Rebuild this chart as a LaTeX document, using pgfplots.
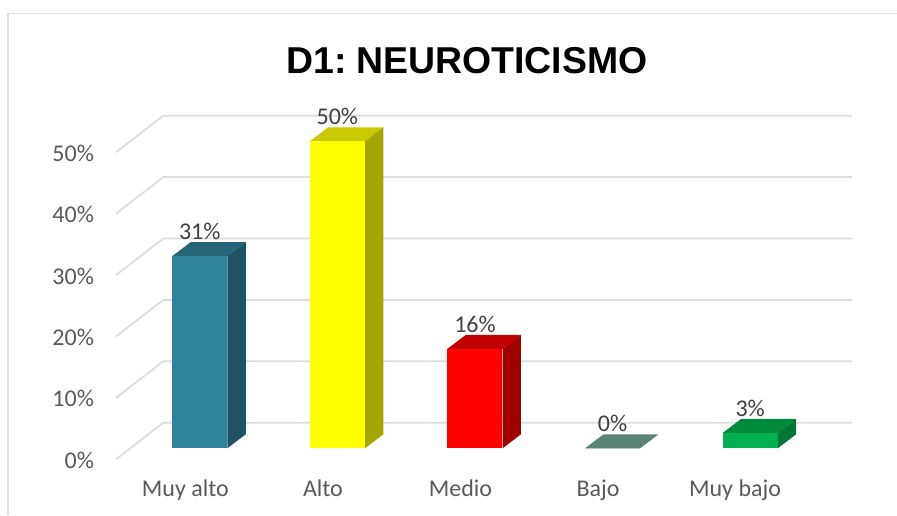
\documentclass[border=0pt]{standalone}
\usepackage{pgfplots}
\pgfplotsset{compat=1.18}
\usepackage{fontspec}
\setmainfont{Carlito}
\newfontfamily\titlefont{Liberation Sans}

\definecolor{gridc}{HTML}{DCDCDC}
\definecolor{axtext}{HTML}{595959}
\definecolor{lbltext}{HTML}{404040}

\tikzset{
    ylab/.style={anchor=east, inner sep=0pt, text=axtext, font=\fontsize{24}{26}\selectfont},
    xlab/.style={anchor=base, inner sep=0pt, text=axtext, font=\fontsize{24}{26}\selectfont},
}

\begin{document}
\begin{tikzpicture}
\useasboundingbox (0,0) rectangle (897pt,515pt);
\begin{axis}[
    at={(0,0)}, anchor=south west,
    hide axis,
    scale only axis,
    width=897pt, height=515pt,
    xmin=-1.452, xmax=5.067,
    ymin=-10.863, ymax=73.01,
    clip=true,
    bar1/.style={ybar, bar width=55pt, bar shift=0pt, draw=none},
    lab/.style={nodes near coords={#1},
        every node near coord/.style={anchor=center, yshift=24.6pt, inner sep=0pt,
            text=lbltext, font=\fontsize{24}{26}\selectfont}},
    grid1/.style={draw=gridc, line width=1.8pt},
]
% chart frame
\addplot[draw=gridc, line width=1.5pt] coordinates {(-1.394,-10.863) (-1.394,70.81) (5.067,70.81)};

% gridlines: side wall and back wall
\addplot[grid1] coordinates {(-0.609,-1.79) (-0.265,4.17) (4.74,4.17)};
\addplot[grid1] coordinates {(-0.609,8.21) (-0.265,14.17) (4.74,14.17)};
\addplot[grid1] coordinates {(-0.609,18.21) (-0.265,24.17) (4.74,24.17)};
\addplot[grid1] coordinates {(-0.609,28.21) (-0.265,34.17) (4.74,34.17)};
\addplot[grid1] coordinates {(-0.609,38.21) (-0.265,44.17) (4.74,44.17)};
\addplot[grid1] coordinates {(-0.609,48.21) (-0.265,54.17) (4.74,54.17)};

% Muy alto
\addplot[fill={rgb,255:red,37;green,103;blue,120}, draw=none] coordinates {(-0.2,31.3) (0.2,31.3) (0.334,33.58) (-0.066,33.58)};
\addplot[fill={rgb,255:red,31;green,83;blue,98}, draw=none] coordinates {(0.2,0) (0.334,2.28) (0.334,33.58) (0.2,31.3)};
\addplot[bar1, fill={rgb,255:red,47;green,132;blue,156}, lab=31\%] coordinates {(0,31.3)};

% Alto
\addplot[fill={rgb,255:red,201;green,201;blue,0}, draw=none] coordinates {(0.8,50) (1.2,50) (1.334,52.28) (0.934,52.28)};
\addplot[fill={rgb,255:red,166;green,166;blue,0}, draw=none] coordinates {(1.2,0) (1.334,2.28) (1.334,52.28) (1.2,50)};
\addplot[bar1, fill={rgb,255:red,255;green,255;blue,0}, lab=50\%] coordinates {(1,50)};

% Medio
\addplot[fill={rgb,255:red,192;green,0;blue,0}, draw=none] coordinates {(1.8,16.2) (2.2,16.2) (2.334,18.48) (1.934,18.48)};
\addplot[fill={rgb,255:red,160;green,0;blue,0}, draw=none] coordinates {(2.2,0) (2.334,2.28) (2.334,18.48) (2.2,16.2)};
\addplot[bar1, fill={rgb,255:red,255;green,0;blue,0}, lab=16\%] coordinates {(2,16.2)};

% Bajo
\addplot[fill={rgb,255:red,91;green,131;blue,117}, draw=none] coordinates {(2.8,0) (3.2,0) (3.334,2.28) (2.934,2.28)};
\addplot[bar1, fill={rgb,255:red,91;green,131;blue,117}, lab=0\%] coordinates {(3,0)};

% Muy bajo
\addplot[fill={rgb,255:red,0;green,138;blue,62}, draw=none] coordinates {(3.8,2.5) (4.2,2.5) (4.334,4.78) (3.934,4.78)};
\addplot[fill={rgb,255:red,0;green,117;blue,56}, draw=none] coordinates {(4.2,0) (4.334,2.28) (4.334,4.78) (4.2,2.5)};
\addplot[bar1, fill={rgb,255:red,0;green,176;blue,80}, lab=3\%] coordinates {(4,2.5)};

% title
\node[inner sep=0pt, font=\titlefont\bfseries\fontsize{37.4}{40}\selectfont, text=black] at (axis cs:1.942,63.1) {D1:\hspace{10pt}NEUROTICISMO};

% value axis labels
\node[ylab] at (axis cs:-0.768,-1.95) {0\%};
\node[ylab] at (axis cs:-0.768,8.05) {10\%};
\node[ylab] at (axis cs:-0.768,18.05) {20\%};
\node[ylab] at (axis cs:-0.768,28.05) {30\%};
\node[ylab] at (axis cs:-0.768,38.05) {40\%};
\node[ylab] at (axis cs:-0.768,48.05) {50\%};

% category labels
\node[xlab] at (axis cs:-0.105,-7.88) {Muy alto};
\node[xlab] at (axis cs:0.895,-7.88) {Alto};
\node[xlab] at (axis cs:1.895,-7.88) {Medio};
\node[xlab] at (axis cs:2.895,-7.88) {Bajo};
\node[xlab] at (axis cs:3.89,-7.88) {Muy bajo};
\end{axis}
\end{tikzpicture}
\end{document}
